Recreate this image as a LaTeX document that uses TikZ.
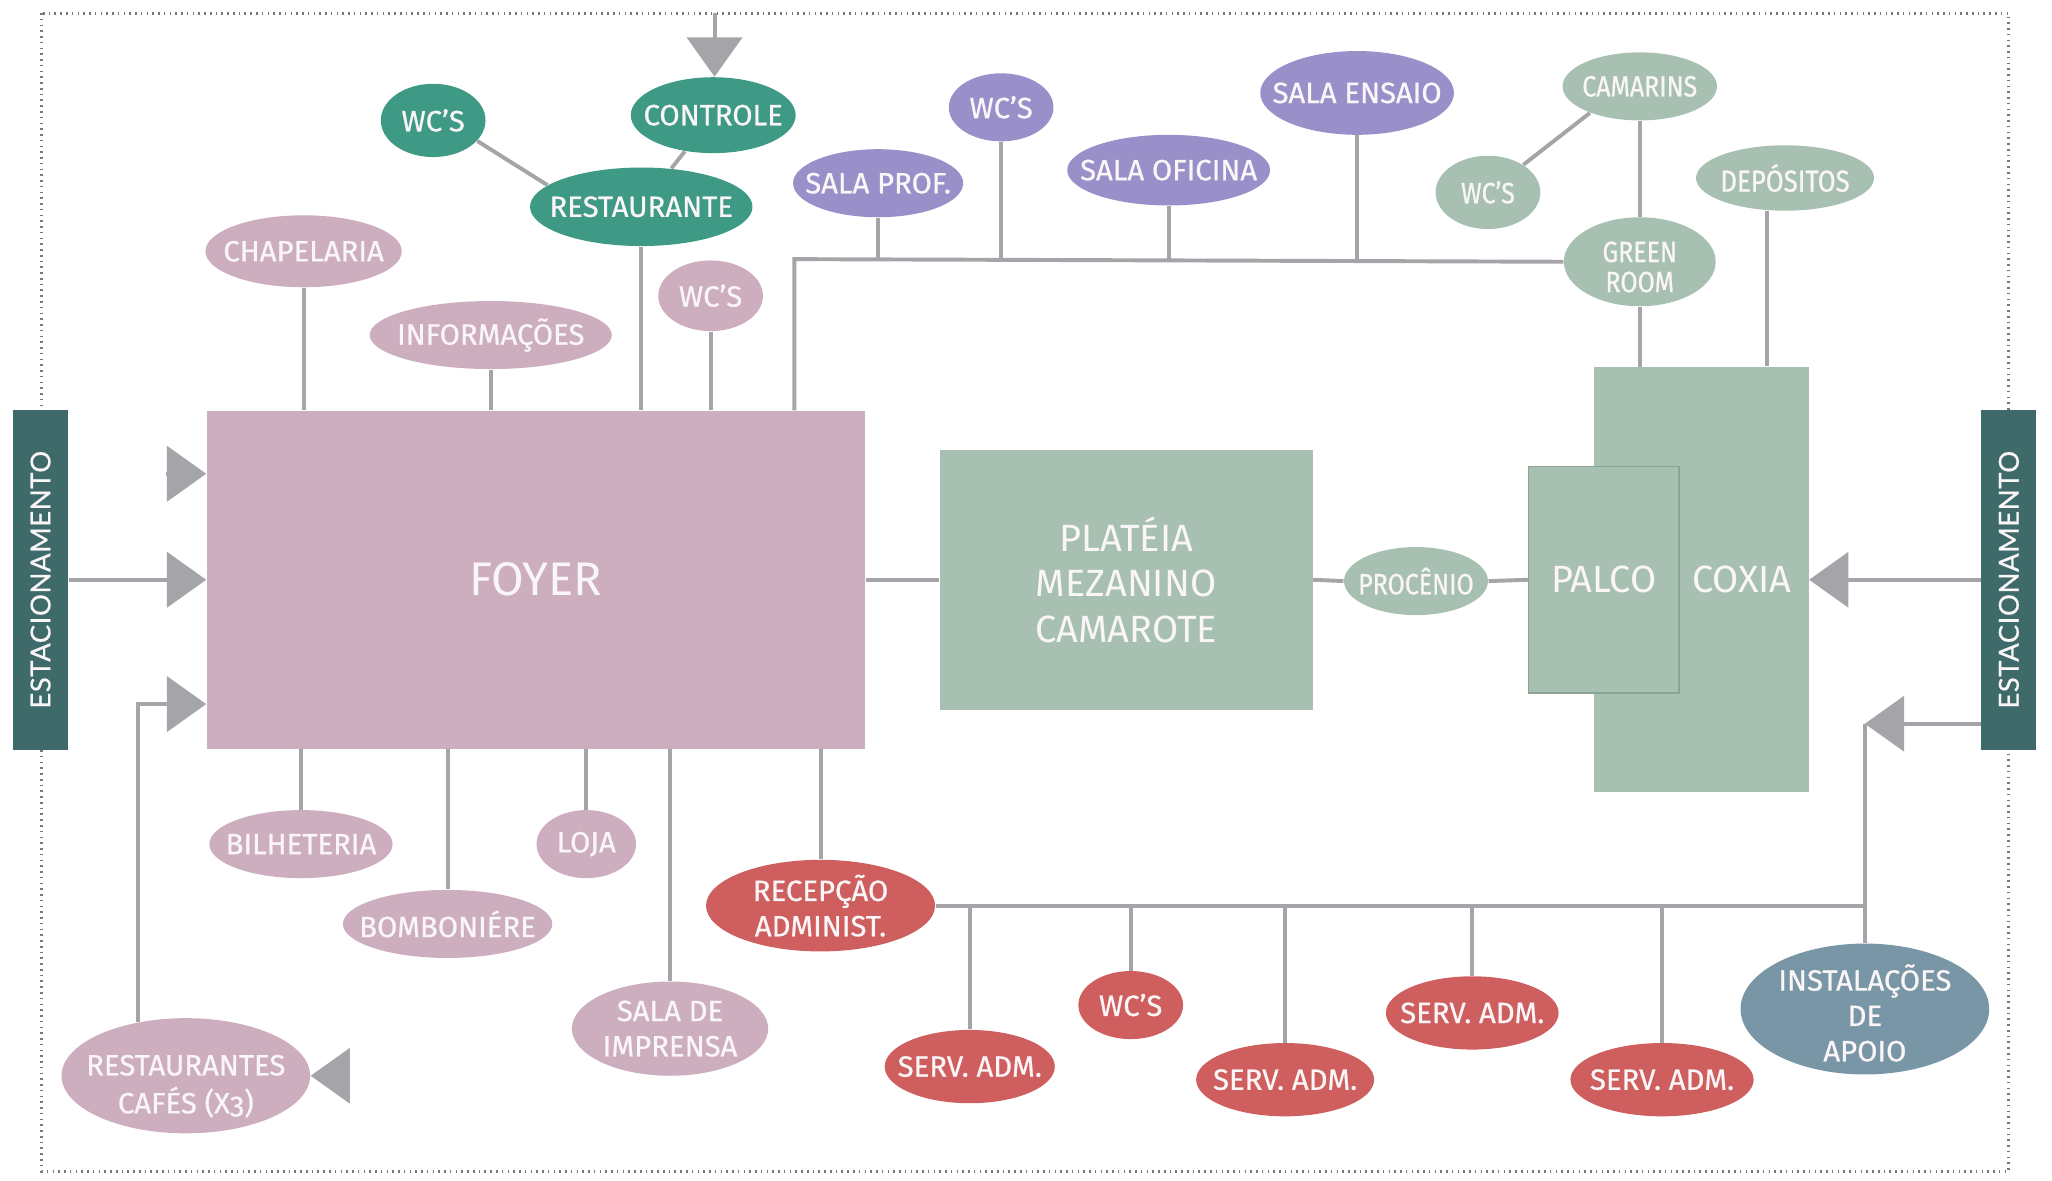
\documentclass[tikz,border=0pt]{standalone}
\usepackage{fontspec}
\setmainfont{Fira Sans}
\newfontfamily\tagfont{Fira Sans}[FakeBold=0.7, Ligatures=TeX]
\newfontfamily\parkfont{Lato}[LetterSpace=2, FakeBold=0.5]
\newfontfamily\narrowfont{Fira Sans}[FakeStretch=0.85, FakeBold=0.7, Ligatures=TeX]
\usetikzlibrary{shapes.geometric, arrows.meta}

\definecolor{foyerpink}{RGB}{205,174,191}
\definecolor{stagegreen}{RGB}{168,192,177}
\definecolor{stageedge}{RGB}{140,164,150}
\definecolor{restteal}{RGB}{62,154,132}
\definecolor{salapurple}{RGB}{153,143,201}
\definecolor{admred}{RGB}{207,95,94}
\definecolor{apoioblue}{RGB}{121,150,166}
\definecolor{parkdark}{RGB}{62,107,106}
\definecolor{linkgray}{RGB}{165,165,169}
\definecolor{framegray}{RGB}{120,120,120}
\definecolor{labelwhite}{RGB}{250,246,248}

\newcommand{\smallfont}{\tagfont\fontsize{11.2}{13.5}\selectfont}
\newcommand{\narrowsmall}{\narrowfont\fontsize{11.2}{11.5}\selectfont}
\newcommand{\midfont}{\fontsize{14.5}{17.5}\selectfont}
\newcommand{\bigfont}{\fontsize{18}{20}\selectfont}

\tikzset{
  frame/.style={draw=framegray, line width=1.1pt, dash pattern=on 0.6pt off 1.6pt},
  link/.style={draw=linkgray, line width=1.5pt},
  entry/.style={link, -{Triangle[length=15pt,width=21pt]}},
  room/.style={ellipse, inner sep=0pt, draw=none},
  tagtext/.style={text=labelwhite, align=center, font=\smallfont},
  tag/.style={label={[tagtext]center:#1}},
  ntag/.style={label={[tagtext, font=\narrowsmall]center:#1}},
  block/.style={rectangle, inner sep=0pt, text=labelwhite, align=center, font=\midfont},
  parkbar/.style={rectangle, fill=parkdark, minimum width=21pt, minimum height=130pt},
  parktext/.style={text=labelwhite, font=\parkfont\fontsize{10.5}{12}\selectfont}
}

\begin{document}
\begin{tikzpicture}[x=0.5pt,y=0.5pt,yscale=-1,xscale=1]
\useasboundingbox (0,0) rectangle (1568,902);

%Shape: Rectangle (dotted frame)
\draw[frame] (32,10) rectangle (1535,895);

%Shape: Rectangles (blocks)
\node[block, fill=foyerpink, minimum width=251.5pt, minimum height=129pt, font=\bigfont] (foyer) at (409.5,443) {FOYER};
\node[block, fill=stagegreen, minimum width=142.5pt, minimum height=99.5pt] (plat) at (860.5,443) {PLATÉIA\\MEZANINO\\CAMAROTE};
\node[block, fill=stagegreen, minimum width=82pt, minimum height=162.5pt,
      label={[text=labelwhite, font=\midfont, xshift=15.5pt]center:COXIA}] (coxia) at (1300,443) {};
\node[block, fill=stagegreen, draw=stageedge, line width=0.5pt, minimum width=57.5pt, minimum height=86.5pt] (palco) at (1225.5,443) {PALCO};

%Shape: Rectangles (parking)
\node[parkbar] (estL) at (31,443) {};
\node[parktext, rotate=90] at (estL) {ESTACIONAMENTO};
\node[parkbar] (estR) at (1535,443) {};
\node[parktext, rotate=90] at (estR) {ESTACIONAMENTO};

%Shape: Ellipses (foyer, pink)
\node[room, fill=foyerpink, minimum width=75pt, minimum height=27.5pt, tag=CHAPELARIA] (chap) at (232,192) {};
\node[room, fill=foyerpink, minimum width=92.5pt, minimum height=26pt, tag=INFORMAÇÕES] (info) at (375,256) {};
\node[room, fill=foyerpink, minimum width=40pt, minimum height=27pt, tag=WC’S] (wcfoyer) at (543,226) {};
\node[room, fill=foyerpink, minimum width=70pt, minimum height=26pt, tag=BILHETERIA] (bilh) at (230,645) {};
\node[room, fill=foyerpink, minimum width=80pt, minimum height=26pt, tag=BOMBONIÉRE] (bomb) at (342,706) {};
\node[room, fill=foyerpink, minimum width=38pt, minimum height=26pt, tag=LOJA] (loja) at (448,645) {};
\node[room, fill=foyerpink, minimum width=75pt, minimum height=36pt, tag={SALA DE\\IMPRENSA}] (imp) at (512,786) {};
\node[room, fill=foyerpink, minimum width=95pt, minimum height=44pt,
      label={[tagtext, font=\tagfont\fontsize{11.2}{14.5}\selectfont, yshift=-4pt]center:RESTAURANTES\\CAFÉS (X{\addfontfeature{Numbers=OldStyle}3})}] (cafe) at (142,822) {};

%Shape: Ellipses (restaurant, teal)
\node[room, fill=restteal, minimum width=85pt, minimum height=30pt, tag=RESTAURANTE] (resto) at (490,158) {};
\node[room, fill=restteal, minimum width=40pt, minimum height=28pt, tag=WC’S] (wcresto) at (331,92) {};
\node[room, fill=restteal, minimum width=63pt, minimum height=29pt, tag=CONTROLE] (controle) at (545,88) {};

%Shape: Ellipses (salas, purple)
\node[room, fill=salapurple, minimum width=65pt, minimum height=26pt, tag=SALA PROF.] (prof) at (671,140) {};
\node[room, fill=salapurple, minimum width=40pt, minimum height=26pt, tag=WC’S] (wcsala) at (765,82) {};
\node[room, fill=salapurple, minimum width=77.5pt, minimum height=27pt, tag=SALA OFICINA] (ofic) at (893,130) {};
\node[room, fill=salapurple, minimum width=74pt, minimum height=32pt, tag=SALA ENSAIO] (ensaio) at (1037,71) {};

%Shape: Ellipses (stage, green)
\node[room, fill=stagegreen, minimum width=59pt, minimum height=26pt, ntag=CAMARINS] (camar) at (1253,66) {};
\node[room, fill=stagegreen, minimum width=40pt, minimum height=28pt, ntag=WC’S] (wccam) at (1137,147) {};
\node[room, fill=stagegreen, minimum width=58pt, minimum height=34pt,
      label={[tagtext, font=\narrowsmall, yshift=-2pt]center:GREEN\\ROOM}] (green) at (1253,200) {};
\node[room, fill=stagegreen, minimum width=68pt, minimum height=25pt, label={[tagtext, font=\narrowfont\fontsize{11.6}{12}\selectfont]center:DEPÓSITOS}] (depos) at (1364,136) {};
\node[room, fill=stagegreen, minimum width=55pt, minimum height=26pt, ntag=PROCÊNIO] (proc) at (1082,444) {};

%Shape: Ellipses (administration, red)
\node[room, fill=admred, minimum width=87.5pt, minimum height=35pt, tag={RECEPÇÃO\\ADMINIST.}] (recep) at (627,692) {};
\node[room, fill=admred, minimum width=65pt, minimum height=28pt, tag=SERV. ADM.] (adma) at (741,815) {};
\node[room, fill=admred, minimum width=40pt, minimum height=26pt, tag=WC’S] (wcadm) at (864,768) {};
\node[room, fill=admred, minimum width=68pt, minimum height=28pt, tag=SERV. ADM.] (admb) at (982,825) {};
\node[room, fill=admred, minimum width=66pt, minimum height=28pt, tag=SERV. ADM.] (admc) at (1125,774) {};
\node[room, fill=admred, minimum width=70pt, minimum height=28pt, tag=SERV. ADM.] (admd) at (1270,825) {};
\node[room, fill=apoioblue, minimum width=95pt, minimum height=50pt,
      label={[tagtext, yshift=-1.5pt]center:INSTALAÇÕES\\DE\\APOIO}] (inst) at (1425,771) {};

%Straight Lines (branches)
\foreach \n in {chap,info,wcfoyer,resto} \draw[link] (\n.south) -- (\n.south |- foyer.north);
\foreach \n in {bilh,bomb,loja,imp,recep} \draw[link] (\n.north) -- (\n.north |- foyer.south);
\draw[link] (wcresto.-25) -- (resto.167);
\draw[link] (controle) -- (resto);

\coordinate (busL) at (607,198);
\draw[link] (busL |- foyer.north) -- (busL) -- (green.west);
\foreach \n in {prof,wcsala,ofic,ensaio} \draw[link] (\n.south) -- (\n.south |- busL);

\draw[link] (camar.south) -- (green.north);
\draw[link] (wccam.38) -- (camar.208);
\draw[link] (green.south) -- (green.south |- coxia.north);
\coordinate (deposDrop) at (1350,280);
\draw[link] (deposDrop |- depos.south) -- (deposDrop);

\draw[link] (foyer.east) -- (plat.west);
\draw[link] (plat.east) -- (proc.west);
\draw[link] (proc.east) -- (palco.west);

\coordinate (supIn) at (1425,553);
\draw[link] (recep.east) -- (recep.east -| supIn);
\draw[link] (supIn) -- (inst.north);
\foreach \n in {adma,wcadm,admb,admc,admd} \draw[link] (\n.north) -- (\n.north |- recep.east);

%Straight Lines (entrances)
\coordinate (topIn) at (546,10);
\draw[entry] (topIn) -- (topIn |- controle.north);
\coordinate (upIn) at (127,362);
\draw[entry] (upIn) -- (upIn -| foyer.west);
\draw[entry] (estL.east) -- (foyer.west);
\coordinate (restIn) at (105,538);
\draw[entry] (cafe.132) -- (cafe.132 |- restIn) -- (restIn -| foyer.west);
\coordinate (cafeIn) at (265,822);
\draw[entry] (cafeIn) -- (cafe.east);
\draw[entry] (estR.west) -- (coxia.east);
\draw[entry] (supIn -| estR.west) -- (supIn);

\end{tikzpicture}
\end{document}
